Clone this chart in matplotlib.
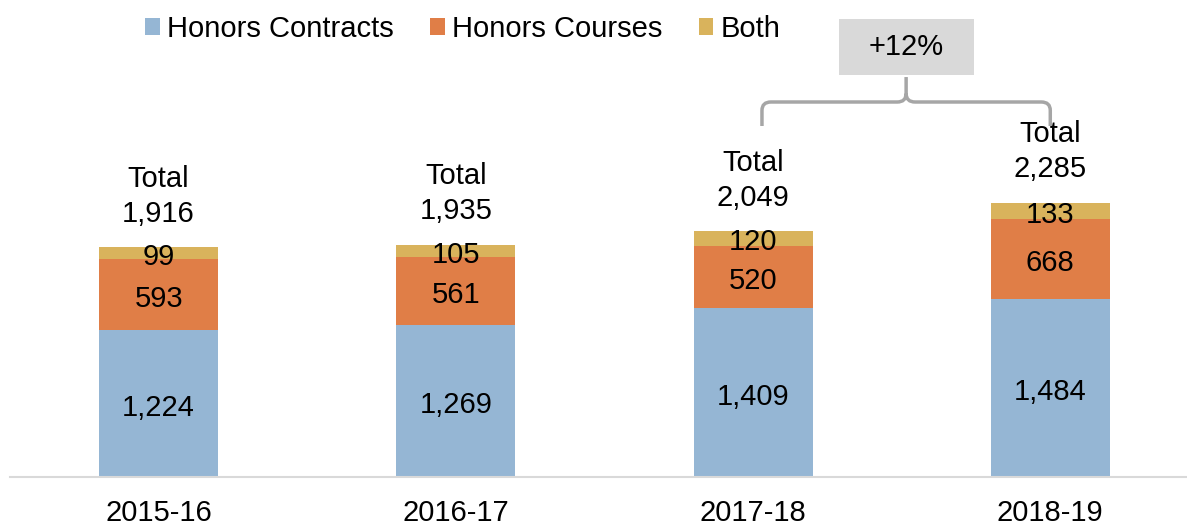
import numpy as np
import matplotlib.pyplot as plt
from matplotlib.path import Path
from matplotlib.patches import PathPatch, Patch, Rectangle

plt.rcParams['font.family'] = ['Liberation Sans', 'DejaVu Sans']

# datos
years = ["2015-16", "2016-17", "2017-18", "2018-19"]
contracts = [1224, 1269, 1409, 1484]
courses = [593, 561, 520, 668]
both = [99, 105, 120, 133]
series_names = ["Honors Contracts", "Honors Courses", "Both"]
colors = ["#95B6D4", "#E07E47", "#D9B35C"]

totals = np.array(contracts) + np.array(courses) + np.array(both)
growth = totals[-1] / totals[-2] - 1

W, H = 1187, 525
fig = plt.figure(figsize=(W / 100, H / 100), dpi=100)
ax = fig.add_axes([10 / W, 48 / H, 1177 / W, 477 / H])

x = np.arange(len(years))
fs = 21
bottom = np.zeros(len(years))
for vals, color in zip([contracts, courses, both], colors):
    ax.bar(x, vals, width=0.4, bottom=bottom, color=color, zorder=2)
    for xi, b, v in zip(x, bottom, vals):
        ax.annotate(f"{v:,}", (xi, b + v / 2), xytext=(0, -3), textcoords="offset points",
                    ha="center", va="center", fontsize=fs, color="black")
    bottom += np.array(vals)

# etiquetas de total
for xi, t in zip(x, totals):
    ax.annotate(f"Total\n{t:,}", (xi, t), xytext=(0, 14), textcoords="offset points",
                ha="center", va="bottom", fontsize=fs, linespacing=1.32)

ax.set_xlim(-0.5, 3.46)
ax.set_ylim(0, 3975)
for s in ["top", "right", "left"]:
    ax.spines[s].set_visible(False)
ax.spines["bottom"].set_color("#D9D9D9")
ax.spines["bottom"].set_linewidth(1.5)
ax.set_yticks([])
ax.set_xticks(x)
ax.set_xticklabels(years, fontsize=fs)
ax.tick_params(axis="x", length=0, pad=16)

# llave entre 2017-18 y 2018-19
x0, x1 = 2.03, 3.0
xm = (x0 + x1) / 2
yb, yh, ytip = 2925, 3125, 3333
rx, ry = 0.03, 70
verts = [(x0, yb), (x0, yh - ry), (x0, yh), (x0 + rx, yh), (xm - rx, yh), (xm, yh), (xm, yh + ry), (xm, ytip),
         (xm, yh + ry), (xm, yh), (xm + rx, yh), (x1 - rx, yh), (x1, yh), (x1, yh - ry), (x1, yb)]
codes = [Path.MOVETO, Path.LINETO, Path.CURVE3, Path.CURVE3, Path.LINETO, Path.CURVE3, Path.CURVE3, Path.LINETO,
         Path.MOVETO, Path.CURVE3, Path.CURVE3, Path.LINETO, Path.CURVE3, Path.CURVE3, Path.LINETO]
ax.add_patch(PathPatch(Path(verts, codes), fill=False, edgecolor="#A6A6A6", linewidth=2.5,
                       capstyle="butt", joinstyle="round"))

# caja del porcentaje
bw, bh, by = 0.454, 467, 3583
ax.add_patch(Rectangle((xm - bw / 2, by - bh / 2), bw, bh, facecolor="#D9D9D9", edgecolor="none"))
ax.text(xm, by, f"+{growth:.0%}", ha="center", va="center", fontsize=fs)

# leyenda
handles = [Patch(facecolor=c, label=n) for c, n in zip(colors, series_names)]
fig.legend(handles=handles, loc="center left", bbox_to_anchor=(145 / W, 1 - 29 / H),
           bbox_transform=fig.transFigure, ncol=3, frameon=False, fontsize=fs,
           borderpad=0, borderaxespad=0, handlelength=0.5, handleheight=0.5,
           handletextpad=0.25, columnspacing=1.25)

fig.savefig("out.png", dpi=100)
